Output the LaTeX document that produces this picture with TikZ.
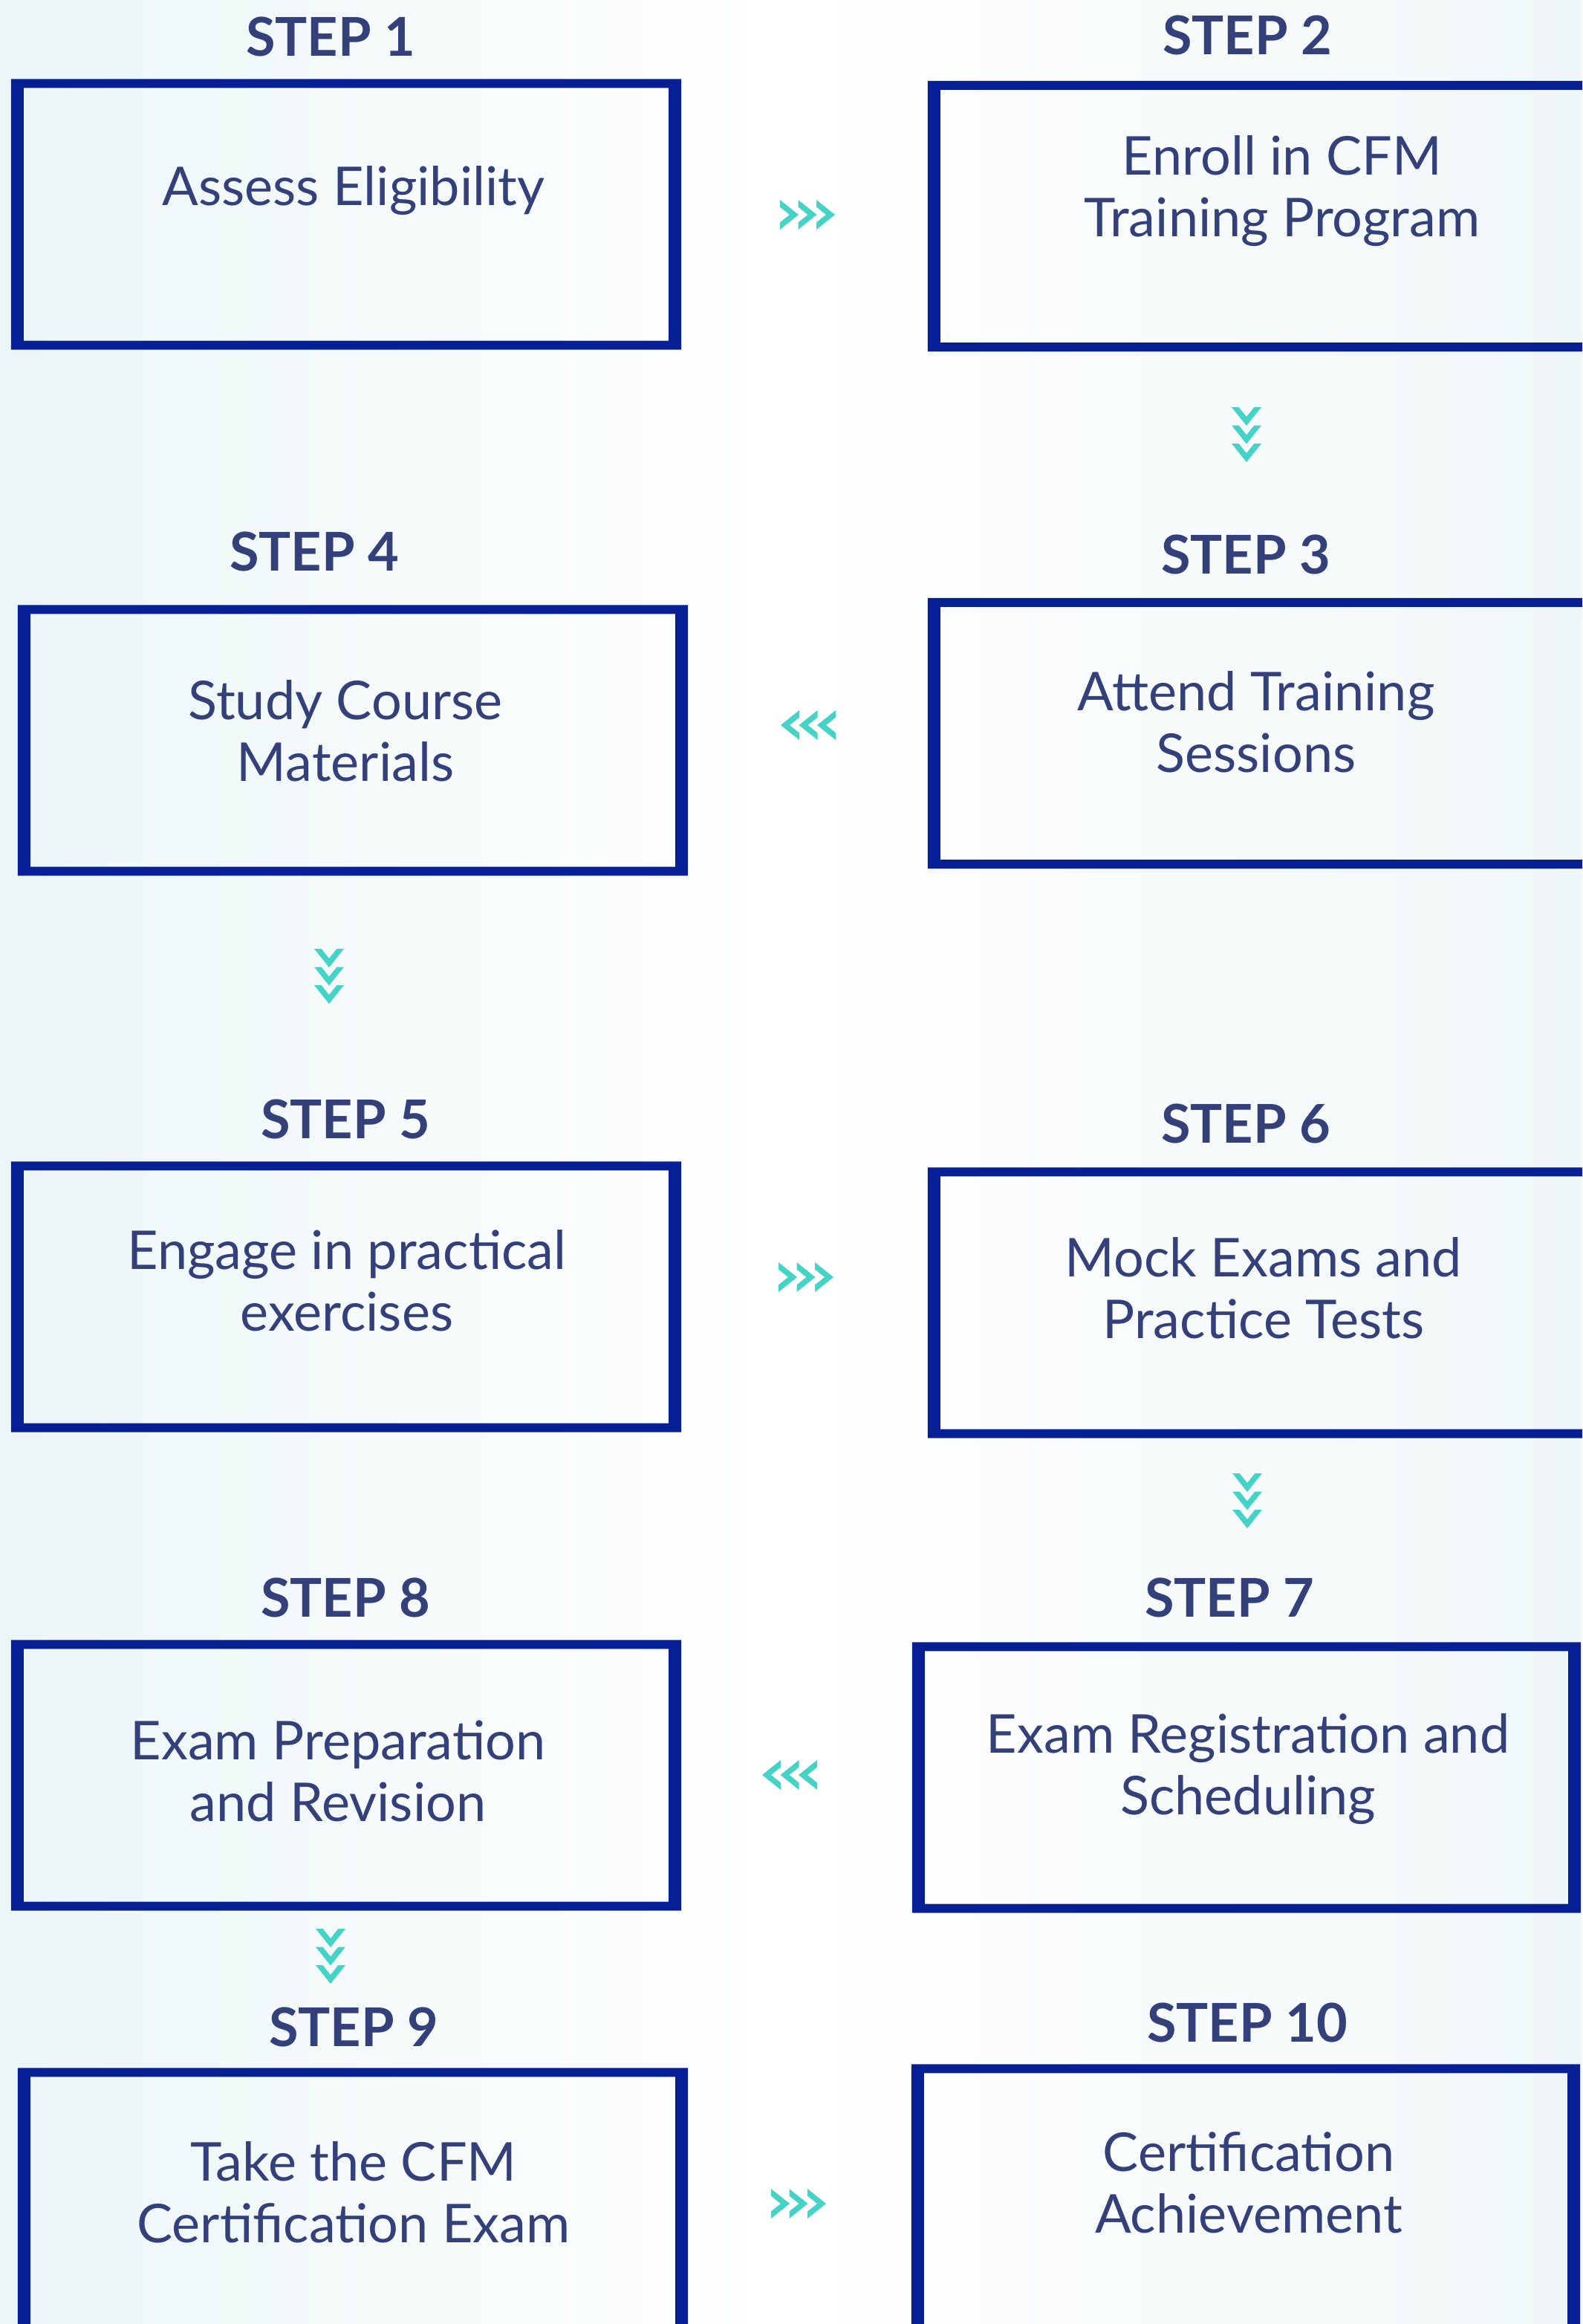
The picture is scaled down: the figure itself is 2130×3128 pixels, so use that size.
\documentclass[tikz,border=0pt]{standalone}
\usepackage{fontspec}
\setmainfont{Lato}
\usetikzlibrary{calc}
\definecolor{txtc}{HTML}{33407A}
\definecolor{boxc}{HTML}{061F94}
\definecolor{chevc}{HTML}{45D3C7}
\definecolor{bgL}{HTML}{ECF6F7}
\definecolor{bgR}{HTML}{F0F7F8}
\tikzset{
  stepbox/.style={rectangle, draw=none, inner sep=0pt, minimum width=902pt, minimum height=364pt},
  steplabel/.style={anchor=north, inner sep=0pt, text=txtc, font=\fontsize{72}{84}\selectfont\bfseries},
  steptext/.style={anchor=north, inner sep=0pt, text=txtc, align=center, font=\fontsize{72}{83}\selectfont},
  chev/.pic={
    \foreach \d in {-24.5,0,24.5}{
      \fill[chevc, shift={(\d,0)}] (-12.5,-20) -- (12.5,0) -- (-12.5,20) -- (-12.5,10.4) -- (0.5,0) -- (-12.5,-10.4) -- cycle;
    }
  },
}
\newcommand\myStepFrame[1]{\fill[boxc, even odd rule] (#1.north west) rectangle (#1.south east) ([shift={(17,12)}]#1.north west) rectangle ([shift={(-17,-12)}]#1.south east);}
\begin{document}
\begin{tikzpicture}[x=1pt, y=-1pt]
\useasboundingbox (0,0) rectangle (2130,3128);
\clip (0,0) rectangle (2130,3128);
\shade[left color=bgL, right color=bgR, middle color=white] (0,0) rectangle (2130,3128);

% boxes
\node[stepbox] (b1) at (466,288.5) {};
\node[stepbox] (b2) at (1700,291) {};
\node[stepbox] (b3) at (1700,987) {};
\node[stepbox] (b4) at (475,996.5) {};
\node[stepbox] (b5) at (466,1745.5) {};
\node[stepbox] (b6) at (1700,1753.5) {};
\node[stepbox, minimum width=900pt] (b7) at (1678,2392.5) {};
\node[stepbox] (b8) at (466,2389.5) {};
\node[stepbox] (b9) at (475,2965.5) {};
\node[stepbox, minimum width=900pt] (b10) at (1677,2960.5) {};
\foreach \b in {b1,b2,b3,b4,b5,b6,b7,b8,b9,b10}{\myStepFrame{\b}}

% step labels
\node[steplabel] (l1) at (445,23) {STEP 1};
\node[steplabel] (l2) at (1679,21) {STEP 2};
\node[steplabel] (l3) at (1677,720) {STEP 3};
\node[steplabel] (l4) at (423,716) {STEP 4};
\node[steplabel] (l5) at (465,1480) {STEP 5};
\node[steplabel] (l6) at (1677,1486) {STEP 6};
\node[steplabel] (l7) at (1655,2124) {STEP 7};
\node[steplabel] (l8) at (465,2124) {STEP 8};
\node[steplabel] (l9) at (476,2702) {STEP 9};
\node[steplabel] (l10) at (1679,2696) {STEP 10};

% box texts
\node[steptext] (t1) at (476,223) {Assess Eligibility};
\node[steptext] (t2) at (1726,182) {Enroll in CFM\\Training Program};
\node[steptext] (t3) at (1691,903) {Attend Training\\Sessions};
\node[steptext] (t4) at (465,915) {Study Course\\Materials};
\node[steptext] (t5) at (467,1655) {Engage in practical\\exercises};
\node[steptext] (t6) at (1701,1665) {Mock Exams and\\Practice Tests};
\node[steptext] (t7) at (1680,2306) {Exam Registration and\\Scheduling};
\node[steptext] (t8) at (455,2315) {Exam Preparation\\and Revision};
\node[steptext] (t9) at (476,2882) {Take the CFM\\Certification Exam};
\node[steptext] (t10) at (1681,2869) {Certification\\Achievement};

% chevron connectors
\coordinate (c12) at (1087,289);
\coordinate (c23) at (1678,585);
\coordinate (c34) at (1088,976);
\coordinate (c45) at (443,1314);
\coordinate (c56) at (1085,1719);
\coordinate (c67) at (1679,2020);
\coordinate (c78) at (1063,2389);
\coordinate (c89) at (445,2633);
\coordinate (c910) at (1075,2966);
\pic at (c12) {chev};
\pic[rotate=-90] at (c23) {chev};
\pic[rotate=180] at (c34) {chev};
\pic[rotate=-90] at (c45) {chev};
\pic at (c56) {chev};
\pic[rotate=-90] at (c67) {chev};
\pic[rotate=180] at (c78) {chev};
\pic[rotate=-90] at (c89) {chev};
\pic at (c910) {chev};
\end{tikzpicture}
\end{document}
